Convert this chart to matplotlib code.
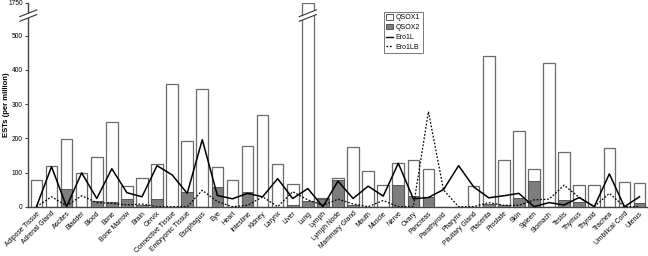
import numpy as np
import matplotlib
matplotlib.use("Agg")
import matplotlib.pyplot as plt
import matplotlib.transforms as mtransforms
from matplotlib.patches import Patch, Polygon
from matplotlib.lines import Line2D

categories = ["Adipose Tissue", "Adrenal Gland", "Ascites", "Bladder", "Blood", "Bone",
              "Bone Marrow", "Brain", "Cervix", "Connective Tissue", "Embryonic Tissue",
              "Esophagus", "Eye", "Heart", "Intestine", "Kidney", "Larynx", "Liver", "Lung",
              "Lymph", "Lymph Node", "Mammary Gland", "Mouth", "Muscle", "Nerve", "Ovary",
              "Pancreas", "Parathyroid", "Pharynx", "Pituitary Gland", "Placenta", "Prostate",
              "Skin", "Spleen", "Stomach", "Testis", "Thymus", "Thyroid", "Trachea",
              "Umbilical Cord", "Uterus"]
qsox1 = [77, 119, 198, 100, 144, 249, 60, 84, 124, 360, 193, 345, 117, 77, 177, 267, 124, 67,
         1750, 25, 85, 174, 104, 64, 128, 136, 110, 0, 0, 60, 441, 136, 220, 111, 419, 159,
         62, 63, 171, 73, 68]
qsox2 = [0, 0, 51, 0, 17, 13, 22, 5, 22, 0, 42, 0, 57, 0, 42, 0, 0, 4, 17, 22, 77, 5, 0, 0,
         63, 31, 28, 0, 0, 0, 9, 5, 25, 75, 0, 20, 13, 0, 0, 0, 10]
ero1l = [0, 117, 0, 99, 24, 111, 41, 29, 120, 93, 39, 196, 33, 23, 39, 29, 82, 24, 53, 0, 75,
         24, 60, 31, 127, 23, 27, 50, 120, 58, 26, 32, 39, 0, 12, 5, 27, 0, 96, 0, 29]
ero1lb = [0, 29, 3, 32, 12, 10, 5, 8, 0, 0, 0, 48, 15, 0, 4, 29, 0, 44, 20, 4, 22, 8, 0, 18,
          0, 0, 278, 49, 0, 0, 12, 4, 4, 20, 22, 63, 27, 0, 39, 0, 0]
yticks = [0, 100, 200, 300, 400, 500, 1750]

BRK, K = 540.0, 0.0467


def fwd(v):
    v = np.asarray(v, dtype=float)
    return np.where(v <= BRK, v, BRK + (v - BRK) * K)


def inv(u):
    u = np.asarray(u, dtype=float)
    return np.where(u <= BRK, u, BRK + (u - BRK) / K)


plt.rcParams['font.family'] = ['Liberation Sans', 'DejaVu Sans']
fig = plt.figure(figsize=(6.48, 2.56), dpi=100)
ax = fig.add_axes([28.3 / 648, 49.3 / 256, 1 - 28.3 / 648 - 0.001, 204 / 256])
ax.set_yscale('function', functions=(fwd, inv))

x = np.arange(len(categories))
w = 0.77
ax.bar(x, qsox1, width=w, color='white', edgecolor='#6a6a6a', linewidth=0.9, zorder=2)
ax.bar(x, qsox2, width=w, color='#7d7d7d', edgecolor='#555555', linewidth=0.7, zorder=3)
ax.plot(x, ero1l, color='black', lw=1.1, zorder=4)
ax.plot(x, ero1lb, color='black', lw=0.9, ls=(0, (1.4, 1.4)), zorder=4)

ax.set_xlim(-0.54, 40.52)
ax.set_ylim(0, 1750)
ax.set_yticks(yticks)
ax.set_yticklabels([str(t) for t in yticks], fontsize=4.8)
ax.set_xticks(x)
ax.set_xticklabels(categories, rotation=45, ha='right', rotation_mode='anchor', fontsize=4.9)
ax.tick_params(axis='x', length=0, pad=2.5)
ax.tick_params(axis='y', length=2.5, width=0.8, pad=1.5, color='#444444')
ax.minorticks_off()
for s in ['top', 'right']:
    ax.spines[s].set_visible(False)
ax.spines['left'].set_color('#444444')
ax.spines['left'].set_linewidth(1.0)
ax.spines['bottom'].set_color('#444444')
ax.spines['bottom'].set_linewidth(1.0)
ax.set_ylabel('ESTs (per million)', fontsize=5.5, fontweight='bold')
ax.yaxis.set_label_coords(-0.030, 0.5)


def draw_break(xpos, xtrans):
    base = mtransforms.blended_transform_factory(xtrans, ax.transAxes)
    tr = fig.dpi_scale_trans + mtransforms.ScaledTranslation(xpos, 0.9417, base)
    s = 1 / 100.0
    up = np.array([[-8.5, -2.0], [8.5, 4.7]]) * s
    lo = np.array([[-8.5, -6.7], [8.5, 0.0]]) * s
    poly = Polygon(np.vstack([up, lo[::-1]]), closed=True, facecolor='white',
                   edgecolor='none', transform=tr, clip_on=False, zorder=6)
    ax.add_artist(poly)
    for seg in (up, lo):
        ax.add_line(Line2D(seg[:, 0], seg[:, 1], color='#333333', lw=0.8,
                           transform=tr, clip_on=False, zorder=7))


draw_break(0.0, ax.transAxes)
draw_break(categories.index("Lung"), ax.transData)

handles = [Patch(facecolor='white', edgecolor='#555555', lw=0.7, label='QSOX1'),
           Patch(facecolor='#7d7d7d', edgecolor='#555555', lw=0.7, label='QSOX2'),
           Line2D([], [], color='black', lw=1.0, label='Ero1L'),
           Line2D([], [], color='black', lw=0.9, ls=(0, (1.4, 1.4)), label='Ero1LB')]
leg = ax.legend(handles=handles, loc='upper left', bbox_to_anchor=(0.574, 0.955),
                fontsize=5, frameon=True, fancybox=False, handlelength=1.0,
                handleheight=0.8, handletextpad=0.4, borderpad=0.35, labelspacing=0.4,
                borderaxespad=0)
leg.get_frame().set_edgecolor('#555555')
leg.get_frame().set_linewidth(0.7)

fig.savefig('out.png', dpi=100)
